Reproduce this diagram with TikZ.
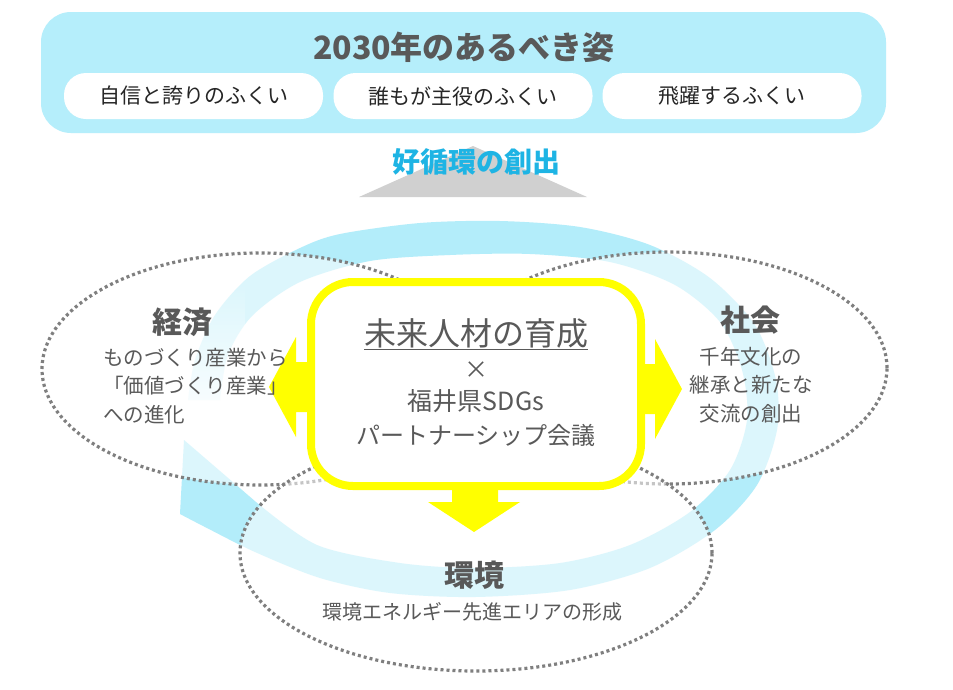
\documentclass[tikz,border=0pt]{standalone}
\usepackage{fontspec}
\setmainfont{Noto Sans CJK JP}
\usetikzlibrary{fadings,shapes.geometric}
\definecolor{txt}{HTML}{595959}
\definecolor{dark}{HTML}{262626}
\definecolor{skyfill}{HTML}{B5EEFB}
\definecolor{bandc}{HTML}{B3EDFA}
\definecolor{cyantxt}{HTML}{1EB4E4}
\definecolor{tri}{HTML}{D0D0D0}
\definecolor{yel}{HTML}{FFFF00}
\definecolor{dotc}{HTML}{7F7F7F}
\tikzfading[name=tailfade, top color=transparent!100, bottom color=transparent!0]
\begin{document}
\begin{tikzpicture}[x=1pt,y=-1pt,
  pill/.style={fill=white, rounded corners=22pt, minimum width=259pt, minimum height=46pt, inner sep=0pt, text=dark, font=\fontsize{21}{25}\selectfont},
  ell/.style={ellipse, draw=dotc, line width=3.2pt, dash pattern=on 3pt off 3pt, fill=white, fill opacity=0.55, draw opacity=1, inner sep=0pt},
  headtxt/.style={text=txt, font=\bfseries\fontsize{30}{34}\selectfont, inner sep=0pt},
  body/.style={text=txt, font=\fontsize{20.5}{28.5}\selectfont, inner sep=0pt},
  yarrow/.style={fill=yel, draw=none}]
\useasboundingbox (0,0) rectangle (953,689);
\fill[white] (0,0) rectangle (953,689);

% top panel
\node[fill=skyfill, rounded corners=30pt, minimum width=845pt, minimum height=121pt, inner sep=0pt] (top) at (463.5,72.5) {};
\node[text=txt, font=\bfseries\fontsize{32}{36}\selectfont, inner sep=0pt] (title) at (464,47) {2030年のあるべき姿};
\node[pill] (p1) at (193.5,96) {自信と誇りのふくい};
\node[pill] (p2) at (463,96) {誰もが主役のふくい};
\node[pill] (p3) at (732,96) {飛躍するふくい};

% triangle and label
\fill[tri] (473,146) -- (359,197) -- (587,197) -- cycle;
\node[text=cyantxt, font=\bfseries\fontsize{28}{32}\selectfont, inner sep=0pt] (cyc) at (476,162) {好循環の創出};

% circular band
\fill[bandc] plot[smooth] coordinates {(188,400) (195,360) (215,315) (250,276) (300,248) (340,234) (420,223) (500,221) (580,227) (650,245) (710,278) (755,325) (776,380) (777,430) (757,485) (715,530) (650,568) (570,590) (475,597) (390,593) (320,578) (255,552) (205,527) (180,514)}
  -- (184,440) -- (256,502)
  -- plot[smooth] coordinates {(256,502) (317,545) (400,563) (475,568) (560,563) (630,545) (690,512) (730,470) (747,420) (742,370) (720,322) (675,285) (610,262) (530,254) (450,255) (370,261) (300,282) (252,316) (228,355) (220,400)}
  -- cycle;
\fill[white, path fading=tailfade] (172,285) rectangle (245,430);

% ellipses
\node[ell, minimum width=436pt, minimum height=232pt] (econ) at (260,369) {};
\node[ell, minimum width=438pt, minimum height=232pt] (soc) at (668,368) {};
\node[ell, minimum width=472pt, minimum height=236pt] (env) at (476,553) {};

% core box
\node[draw=yel, line width=8pt, fill=white, rounded corners=42pt, minimum width=330pt, minimum height=204pt, inner sep=0pt] (core) at (476,384) {};

% yellow arrows
\fill[yarrow] (312,362) -- (296,362) -- (296,337) -- (269,387) -- (296,437) -- (296,412) -- (312,412) -- cycle;
\fill[yarrow] (640,364) -- (655,364) -- (655,339) -- (682,389) -- (655,439) -- (655,414) -- (640,414) -- cycle;
\fill[yarrow] (452,488) -- (452,502) -- (428,502) -- (474,532) -- (520,502) -- (498,502) -- (498,488) -- cycle;

% core text
\node[text=txt, font=\fontsize{32}{36}\selectfont, inner sep=0pt] (c1) at (476,334) {\underline{未来人材の育成}};
\node[text=txt, font=\fontsize{24}{28}\selectfont, inner sep=0pt] (c2) at (476,370) {×};
\node[text=txt, font=\fontsize{25}{28}\selectfont, inner sep=0pt] (c3) at (476,401) {福井県SDGs};
\node[text=txt, font=\fontsize{24}{28}\selectfont, inner sep=0pt] (c4) at (476,435) {パートナーシップ会議};

% domain labels
\node[headtxt] (h1) at (182,322) {経済};
\node[body, align=left, anchor=west] (b1) at (103,386) {ものづくり産業から\\「価値づくり産業」\\への進化};
\node[headtxt] (h2) at (750,320) {社会};
\node[body, align=center] (b2) at (751,385) {千年文化の\\継承と新たな\\交流の創出};
\node[headtxt] (h3) at (474,575) {環境};
\node[text=txt, font=\fontsize{20}{24}\selectfont, inner sep=0pt] (b3) at (472,612) {環境エネルギー先進エリアの形成};
\end{tikzpicture}
\end{document}
